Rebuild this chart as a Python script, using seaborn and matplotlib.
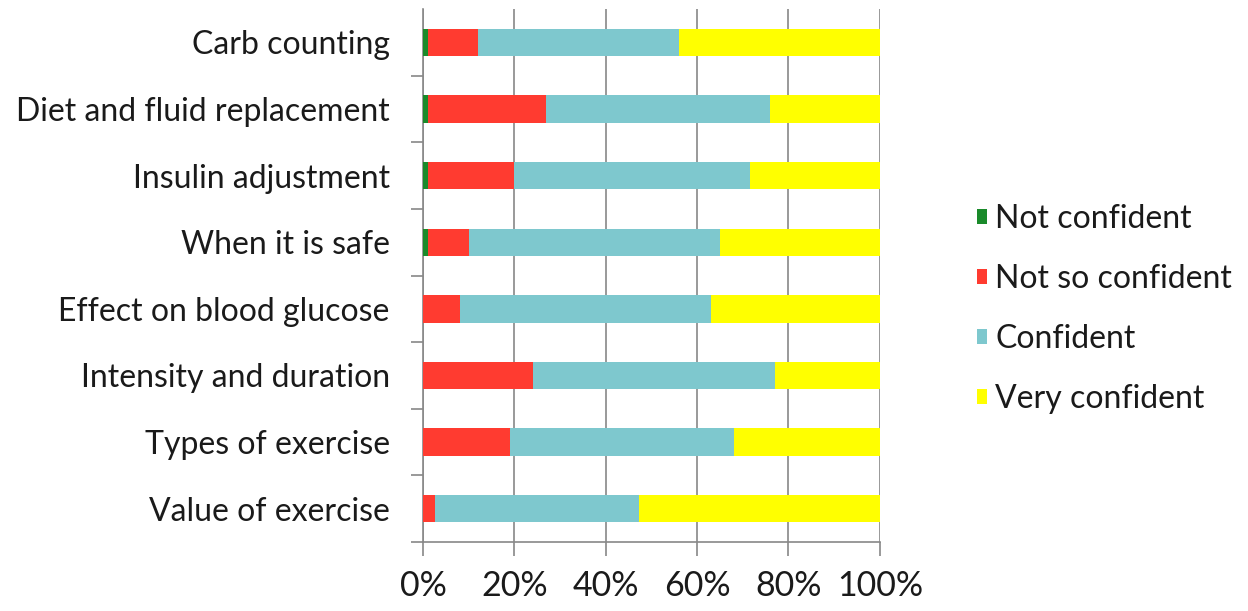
import matplotlib
matplotlib.use("Agg")
import matplotlib.pyplot as plt
import seaborn as sns
import numpy as np
import pandas as pd
from matplotlib.patches import Patch

categories = ["Carb counting", "Diet and fluid replacement", "Insulin adjustment",
              "When it is safe", "Effect on blood glucose", "Intensity and duration",
              "Types of exercise", "Value of exercise"]
not_confident = [1, 1, 1, 1, 0, 0, 0, 0]
not_so_confident = [11, 26, 19, 9, 8, 24, 19, 2.6]
confident = [44, 49, 51.5, 55, 55, 53, 49, 44.7]
very_confident = [44, 24, 28.5, 35, 37, 23, 32, 52.7]
series_names = ["Not confident", "Not so confident", "Confident", "Very confident"]
colors = ["#1a8a2a", "#ff3b30", "#7ec8ce", "#ffff00"]
xticks = [0, 20, 40, 60, 80, 100]
xtick_labels = ["0%", "20%", "40%", "60%", "80%", "100%"]

sns.set_style("white")
plt.rcParams['font.family'] = ['Lato', 'DejaVu Sans']

fig = plt.figure(figsize=(12.48, 6.11), dpi=100)
ax = fig.add_axes([0.339, 0.113, 0.366, 0.872])

vals = np.array([not_confident, not_so_confident, confident, very_confident])
cum = np.cumsum(vals, axis=0)
df = pd.DataFrame({"category": categories})
for i in range(3, -1, -1):
    df["v"] = cum[i]
    sns.barplot(data=df, x="v", y="category", color=colors[i], orient="h",
                width=0.41, ax=ax, saturation=1, linewidth=0, zorder=3)

ax.set_xlim(0, 100)
ax.set_ylim(len(categories) - 0.5, -0.5)
ax.set_xticks(xticks)
ax.set_xticklabels(xtick_labels, fontsize=24.5, color="#1a1a1a")
ax.tick_params(axis="x", length=10, width=1.2, color="#888888", pad=10, direction="out", bottom=True)
ax.set_yticks(range(len(categories)))
ax.set_yticklabels(categories, fontsize=23, color="#1a1a1a")
ax.tick_params(axis="y", which="major", length=0, pad=24)
ax.set_yticks(np.arange(-0.5, len(categories), 1)[1:], minor=True)
ax.tick_params(axis="y", which="minor", length=9, width=1.2, color="#888888", left=True, direction="out")
ax.set_xlabel("")
ax.set_ylabel("")
ax.grid(axis="x", color="#888888", linewidth=1.2, zorder=0)
ax.set_axisbelow(True)
for s in ["top", "right"]:
    ax.spines[s].set_visible(False)
for s in ["left", "bottom"]:
    ax.spines[s].set_color("#888888")
    ax.spines[s].set_linewidth(1.2)

handles = [Patch(facecolor=c, edgecolor="none") for c in colors]
fig.legend(handles, series_names, loc="center left", bbox_to_anchor=(0.783, 0.494),
           frameon=False, fontsize=23, handlelength=0.32, handleheight=0.32,
           handletextpad=0.25, labelspacing=0.94, labelcolor="#1a1a1a",
           borderaxespad=0, borderpad=0)

fig.savefig("out.png", dpi=100)
